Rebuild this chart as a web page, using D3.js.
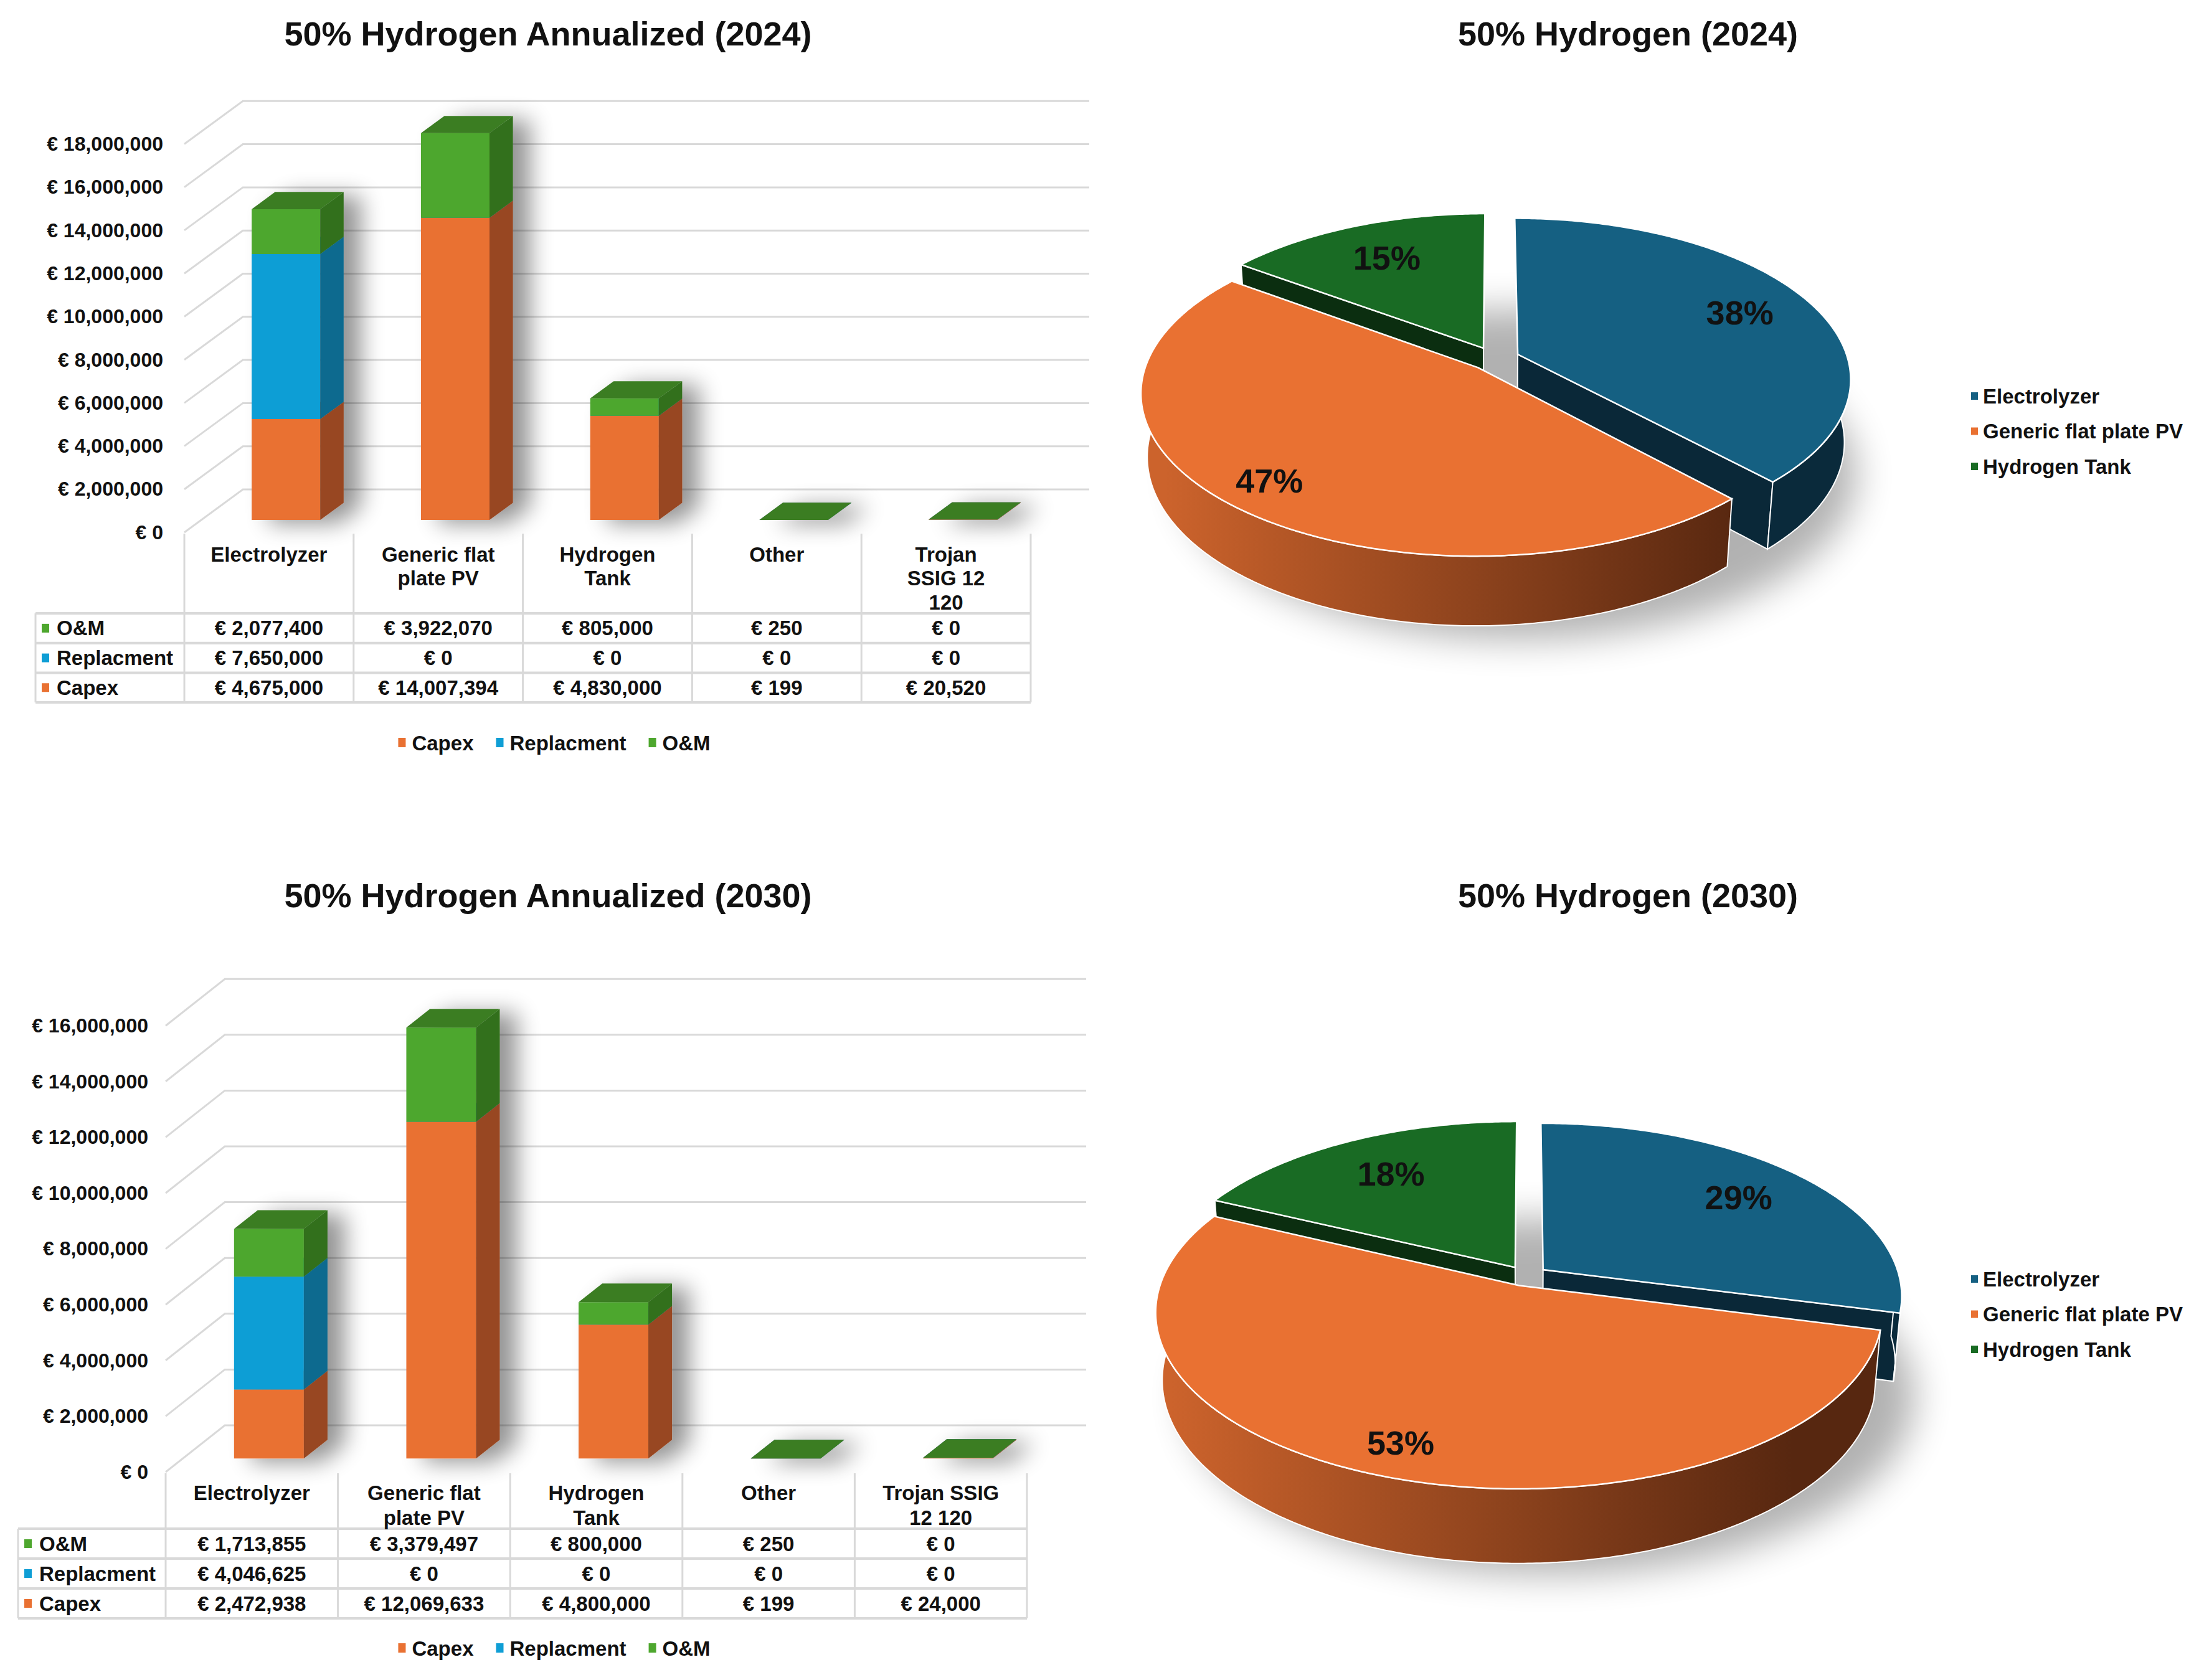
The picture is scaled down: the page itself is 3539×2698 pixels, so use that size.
<!DOCTYPE html>
<html>
<head>
<meta charset="utf-8">
<script src="https://cdn.jsdelivr.net/npm/d3@7"></script>
<style>
  body { margin: 0; background: #fff; }
  text { font-family: "Liberation Sans", Arial, sans-serif; font-weight: bold; fill: #111; }
</style>
</head>
<body>
<script>
// canvas
const width = 3539;
const height = 2698;

// categories and table header lines
const categories = ["Electrolyzer", "Generic flat plate PV", "Hydrogen Tank", "Other", "Trojan SSIG 12 120"];
const headers2024 = [["Electrolyzer"], ["Generic flat", "plate PV"], ["Hydrogen", "Tank"], ["Other"], ["Trojan", "SSIG 12", "120"]];
const headers2030 = [["Electrolyzer"], ["Generic flat", "plate PV"], ["Hydrogen", "Tank"], ["Other"], ["Trojan SSIG", "12 120"]];
const seriesNames = ["Capex", "Replacment", "O&M"];

// annualized costs 2024
const capex2024 = [4675000, 14007394, 4830000, 199, 20520];
const replacement2024 = [7650000, 0, 0, 0, 0];
const om2024 = [2077400, 3922070, 805000, 250, 0];

// annualized costs 2030
const capex2030 = [2472938, 12069633, 4800000, 199, 24000];
const replacement2030 = [4046625, 0, 0, 0, 0];
const om2030 = [1713855, 3379497, 800000, 250, 0];

// y axis ticks
const ticks2024 = [0, 2000000, 4000000, 6000000, 8000000, 10000000, 12000000, 14000000, 16000000, 18000000];
const ticks2030 = [0, 2000000, 4000000, 6000000, 8000000, 10000000, 12000000, 14000000, 16000000];

// pie shares (%)
const pieNames = ["Electrolyzer", "Generic flat plate PV", "Hydrogen Tank"];
const pieShare2024 = [38, 47, 15];
const pieShare2030 = [29, 53, 18];

// colours
const frontCol = { "Capex": "#e97132", "Replacment": "#0f9ed5", "O&M": "#4ea72e" };
const sideCol  = { "Capex": "#984720", "Replacment": "#0a6a8f", "O&M": "#33701e" };
const topCol   = { "Capex": "#c75e28", "Replacment": "#0c84b2", "O&M": "#3a7d22" };
const pieTop = ["#156082", "#e97132", "#196b24"];
const pieWall = ["#0a2a3b", null, "#0b2e10"];
const pieCut = ["#0a2838", "#5a2810", "#0b2e10"];

const fmt = d => "€ " + d3.format(",")(d);

let svg = d3.select('body')
    .append('svg')
    .attr('width', width)
    .attr('height', height);

const defs = svg.append('defs');
const sh = defs.append('filter').attr('id', 'barShadow')
    .attr('x', '-30%').attr('y', '-20%').attr('width', '180%').attr('height', '140%');
sh.append('feGaussianBlur').attr('in', 'SourceAlpha').attr('stdDeviation', 18);
sh.append('feOffset').attr('dx', 28).attr('dy', 6).attr('result', 'off');
sh.append('feComponentTransfer').append('feFuncA').attr('type', 'linear').attr('slope', 0.42);
const mg = sh.append('feMerge');
mg.append('feMergeNode');
mg.append('feMergeNode').attr('in', 'SourceGraphic');

defs.append('filter').attr('id', 'blur').attr('x', '-50%').attr('y', '-50%').attr('width', '200%').attr('height', '200%')
    .append('feGaussianBlur').attr('stdDeviation', 30);

function barChart(o) {
  const g = svg.append('g');
  const rows = categories.map((c, i) => ({ cat: c, "Capex": o.capex[i], "Replacment": o.repl[i], "O&M": o.om[i] }));
  const stack = d3.stack().keys(seriesNames)(rows);

  const yScale = d3.scaleLinear()
      .domain([0, d3.max(o.ticks)])
      .range([o.y0, o.y0 - o.step * (o.ticks.length - 1)]);
  const colScale = d3.scaleBand().domain(d3.range(categories.length)).range([o.x0, o.x1]);
  const barScale = d3.scaleBand().domain(d3.range(categories.length)).range([o.x0, o.x1])
      .paddingInner(0.595).paddingOuter(0.2975);
  const [dx, dy] = o.depth;
  const a = 0.29, t = 0.4;
  const bw = barScale.bandwidth();

  // title
  g.append('text').attr('x', 880).attr('y', o.titleY).attr('dy', '0.35em')
    .attr('text-anchor', 'middle').attr('font-size', 54).text(o.title);

  // walls
  g.selectAll('.grid').data(o.ticks).enter().append('polyline')
    .attr('points', d => [[o.x0, yScale(d)], [o.x0 + dx, yScale(d) + dy], [o.x1 + dx, yScale(d) + dy]].join(' '))
    .attr('fill', 'none').attr('stroke', '#d9d9d9').attr('stroke-width', 3);

  // y axis
  const ax = g.append('g').attr('transform', 'translate(' + o.x0 + ',0)')
    .call(d3.axisLeft(yScale).tickValues(o.ticks).tickSize(0).tickPadding(o.pad).tickFormat(fmt));
  ax.select('.domain').remove();
  ax.selectAll('text').attr('font-size', 32);

  // bars
  const bars = g.append('g').attr('filter', 'url(#barShadow)');
  const layers = bars.selectAll('.layer').data(stack).enter().append('g');
  const geo = (d, i) => {
    const fx = barScale(i) + a * dx;
    return { fx, yt: yScale(d[1]) + a * dy, yb: yScale(d[0]) + a * dy, ex: t * dx, ey: t * dy };
  };
  layers.each(function (layer) {
    const k = layer.key;
    const L = d3.select(this);
    L.selectAll('.front').data(layer).enter().append('path')
      .attr('d', (d, i) => { const q = geo(d, i); return `M${q.fx},${q.yt}H${q.fx + bw}V${q.yb}H${q.fx}Z`; })
      .attr('fill', frontCol[k]);
    L.selectAll('.side').data(layer).enter().append('path')
      .attr('d', (d, i) => { const q = geo(d, i);
        return `M${q.fx + bw},${q.yt}L${q.fx + bw + q.ex},${q.yt + q.ey}L${q.fx + bw + q.ex},${q.yb + q.ey}L${q.fx + bw},${q.yb}Z`; })
      .attr('fill', sideCol[k]);
    L.selectAll('.top').data(layer).enter().append('path')
      .attr('d', (d, i) => { const q = geo(d, i);
        return `M${q.fx},${q.yt}L${q.fx + bw},${q.yt}L${q.fx + bw + q.ex},${q.yt + q.ey}L${q.fx + q.ex},${q.yt + q.ey}Z`; })
      .attr('fill', topCol[k]);
  });

  // data table
  const tb = g.append('g');
  const tableRows = [["O&M", o.om], ["Replacment", o.repl], ["Capex", o.capex]];
  const tBottom = o.headBottom + o.rowH * tableRows.length;
  const bounds = d3.range(categories.length + 1).map(i => o.x0 + i * colScale.step());
  tb.selectAll('.vl').data(bounds).enter().append('line')
    .attr('x1', d => d).attr('x2', d => d).attr('y1', o.y0 + 2).attr('y2', tBottom)
    .attr('stroke', '#d9d9d9').attr('stroke-width', 3);
  tb.append('line').attr('x1', o.tLeft).attr('x2', o.tLeft).attr('y1', o.headBottom).attr('y2', tBottom)
    .attr('stroke', '#d9d9d9').attr('stroke-width', 3);
  tb.selectAll('.hl').data(d3.range(tableRows.length + 1)).enter().append('line')
    .attr('x1', o.tLeft).attr('x2', o.x1)
    .attr('y1', d => o.headBottom + d * o.rowH).attr('y2', d => o.headBottom + d * o.rowH)
    .attr('stroke', '#d9d9d9').attr('stroke-width', 4);

  // header texts
  o.headers.forEach((lines, i) => {
    tb.selectAll(null).data(lines).enter().append('text')
      .attr('x', colScale(i) + colScale.bandwidth() / 2)
      .attr('y', (d, j) => o.headY + j * o.lineH).attr('dy', '0.35em')
      .attr('text-anchor', 'middle').attr('font-size', 33).text(d => d);
  });

  // rows
  tableRows.forEach(([name, vals], r) => {
    const cy = o.headBottom + (r + 0.5) * o.rowH;
    tb.append('rect').attr('x', o.tLeft + 10).attr('y', cy - 7).attr('width', 12).attr('height', 14)
      .attr('fill', frontCol[name]);
    tb.append('text').attr('x', o.tLeft + 34).attr('y', cy).attr('dy', '0.35em')
      .attr('font-size', 33).text(name);
    tb.selectAll(null).data(vals).enter().append('text')
      .attr('x', (d, i) => colScale(i) + colScale.bandwidth() / 2)
      .attr('y', cy).attr('dy', '0.35em').attr('text-anchor', 'middle')
      .attr('font-size', 33).text(fmt);
  });

  // legend
  const lg = g.append('g');
  let lx = 0;
  seriesNames.forEach(name => {
    lg.append('rect').attr('x', lx).attr('y', -8).attr('width', 12).attr('height', 15).attr('fill', frontCol[name]);
    const tx = lg.append('text').attr('x', lx + 22).attr('y', 0).attr('dy', '0.35em')
      .attr('font-size', 33).text(name);
    lx += 22 + tx.node().getComputedTextLength() + 36;
  });
  lx -= 36;
  lg.attr('transform', 'translate(' + (890 - lx / 2) + ',' + o.legendY + ')');
}

function pie3d(o) {
  const g = svg.append('g');
  const gid = 'grad' + o.id;
  const gr = defs.append('linearGradient').attr('id', gid).attr('gradientUnits', 'userSpaceOnUse')
    .attr('x1', o.cx - o.R).attr('x2', o.cx + o.R * 0.75).attr('y1', 0).attr('y2', 0);
  gr.append('stop').attr('offset', 0).attr('stop-color', '#cc632c');
  gr.append('stop').attr('offset', 1).attr('stop-color', '#572710');

  // title
  g.append('text').attr('x', 2614).attr('y', o.titleY).attr('dy', '0.35em')
    .attr('text-anchor', 'middle').attr('font-size', 54).text(o.title);

  const s = Math.sin(o.tilt), c = Math.cos(o.tilt);
  const dist = o.persp * o.R;
  const proj = (X, Z, Y) => {
    const depth = -Z * c - Y * s;
    const p = dist / (dist + depth);
    return [o.cx + X * p, o.cy + (Z * s - Y * c) * p];
  };
  const line = d3.line();
  const arcs = d3.pie().sort(null)(o.values);
  const slices = arcs.map((d, i) => {
    const m = (d.startAngle + d.endAngle) / 2;
    const ox = o.explode * Math.sin(m), oz = -o.explode * Math.cos(m);
    return {
      d, i, m, ox, oz,
      rim: (th, Y) => proj(ox + o.R * Math.sin(th), oz - o.R * Math.cos(th), Y),
      ctr: Y => proj(ox, oz, Y)
    };
  });
  const sweep = (a0, a1) => { const n = Math.max(2, Math.ceil((a1 - a0) / 0.01)); return d3.range(n + 1).map(k => a0 + (a1 - a0) * k / n); };

  // shadow
  g.append('ellipse').attr('cx', o.cx + 40).attr('cy', o.cy + o.H + 70)
    .attr('rx', o.R * 1.02).attr('ry', o.R * 0.5).attr('fill', '#000').attr('opacity', 0.3)
    .attr('filter', 'url(#blur)');

  // cut faces
  const faces = [];
  slices.forEach(sl => {
    if (Math.sin(sl.d.startAngle) < -1e-6) faces.push({ sl, th: sl.d.startAngle });
    if (Math.sin(sl.d.endAngle) > 1e-6) faces.push({ sl, th: sl.d.endAngle });
  });
  g.selectAll('.face').data(faces).enter().append('path')
    .attr('d', f => line([f.sl.ctr(0), f.sl.rim(f.th, 0), f.sl.rim(f.th, -o.H), f.sl.ctr(-o.H)]) + 'Z')
    .attr('fill', f => pieCut[f.sl.i])
    .attr('stroke', '#fff').attr('stroke-width', 2);

  // outer walls
  const walls = slices.map(sl => {
    const lo = Math.max(sl.d.startAngle, Math.PI / 2), hi = Math.min(sl.d.endAngle, Math.PI * 1.5);
    return { sl, lo, hi };
  }).filter(w => w.hi > w.lo);
  g.selectAll('.wall').data(walls).enter().append('path')
    .attr('d', w => {
      const th = sweep(w.lo, w.hi);
      const pts = th.map(a => w.sl.rim(a, 0)).concat(th.slice().reverse().map(a => w.sl.rim(a, -o.H)));
      return line(pts) + 'Z';
    })
    .attr('fill', w => pieWall[w.sl.i] || 'url(#' + gid + ')')
    .attr('stroke', '#fff').attr('stroke-width', 2);

  // tops
  g.selectAll('.topface').data(slices).enter().append('path')
    .attr('d', sl => line([sl.ctr(0)].concat(sweep(sl.d.startAngle, sl.d.endAngle).map(a => sl.rim(a, 0)))) + 'Z')
    .attr('fill', sl => pieTop[sl.i])
    .attr('stroke', '#fff').attr('stroke-width', 2.5);

  // labels
  g.selectAll('.lbl').data(slices).enter().append('text')
    .attr('transform', sl => {
      const r = o.labelR[sl.i] * o.R;
      const p = proj(sl.ox + r * Math.sin(sl.m), sl.oz - r * Math.cos(sl.m), 0);
      return 'translate(' + p + ')';
    })
    .attr('dy', '0.35em').attr('text-anchor', 'middle').attr('font-size', 54)
    .text(sl => sl.d.data + '%');

  // legend
  const lg = g.append('g').attr('transform', 'translate(3165,' + o.legendY + ')');
  pieNames.forEach((n, i) => {
    lg.append('rect').attr('x', 0).attr('y', i * 56.5 - 6).attr('width', 11).attr('height', 12).attr('fill', pieTop[i]);
    lg.append('text').attr('x', 19).attr('y', i * 56.5).attr('dy', '0.35em').attr('font-size', 33).text(n);
  });
}

barChart({
  title: "50% Hydrogen Annualized (2024)", titleY: 54,
  capex: capex2024, repl: replacement2024, om: om2024, ticks: ticks2024, headers: headers2024,
  x0: 296, x1: 1655, y0: 855, step: 69.3, depth: [94, -69], pad: 34,
  tLeft: 57, headBottom: 985, rowH: 47.7, headY: 890, lineH: 38.5, legendY: 1193
});

barChart({
  title: "50% Hydrogen Annualized (2030)", titleY: 1438,
  capex: capex2030, repl: replacement2030, om: om2030, ticks: ticks2030, headers: headers2030,
  x0: 266, x1: 1649, y0: 2364, step: 89.6, depth: [95, -75], pad: 28,
  tLeft: 29, headBottom: 2455, rowH: 48, headY: 2397, lineH: 40, legendY: 2647
});

pie3d({
  id: 1, title: "50% Hydrogen (2024)", titleY: 54, values: pieShare2024,
  cx: 2400, cy: 576, R: 530, H: 116, explode: 40, tilt: 0.4975, persp: 5.9,
  labelR: [0.76, 0.85, 0.72], legendY: 636
});

pie3d({
  id: 2, title: "50% Hydrogen (2030)", titleY: 1438, values: pieShare2030,
  cx: 2451, cy: 2049, R: 572, H: 124, explode: 34, tilt: 0.4975, persp: 5.9,
  labelR: [0.75, 0.85, 0.72], legendY: 2054
});
</script>
</body>
</html>
